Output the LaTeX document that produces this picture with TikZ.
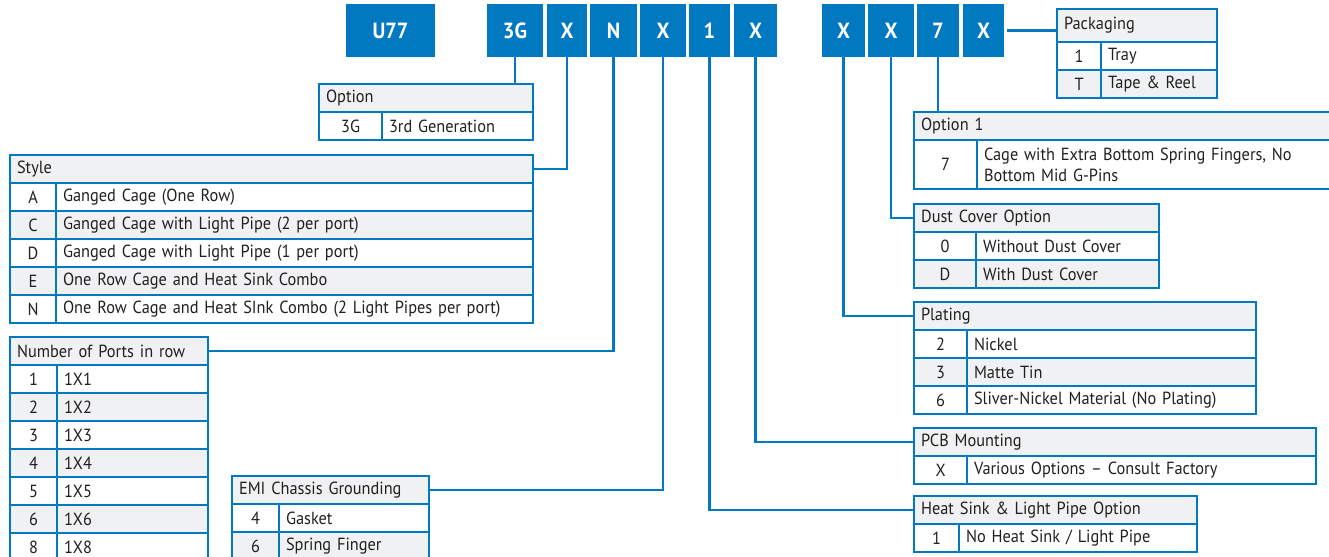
\documentclass[tikz,border=0pt]{standalone}
\usepackage{fontspec}
\setmainfont{PT Sans}[FakeStretch=0.93]
\usetikzlibrary{positioning}
\usetikzlibrary{calc}
\definecolor{cblue}{RGB}{0,121,193}
\definecolor{cgray}{RGB}{240,241,242}
\definecolor{ctext}{RGB}{35,31,32}
\newcommand{\unitpx}{0.02cm}
\newcommand{\tablefont}{\fontsize{10}{12}\selectfont}
\newcommand{\codefont}{\fontsize{12.5}{14}\selectfont\bfseries}
\tikzset{cell/.style={draw=cblue,text=ctext,line width=1.2pt,anchor=north west,inner sep=0pt,minimum height=28*\unitpx,font=\tablefont}}
\tikzset{hdr/.style={cell,fill=cgray,align=left,inner xsep=7*\unitpx}}
\tikzset{keyc/.style={cell,align=center}}
\tikzset{descc/.style={cell,align=left,inner xsep=7*\unitpx}}
\tikzset{row0/.style={fill=cgray},row1/.style={fill=white}}
\tikzset{codebox/.style={fill=cblue,text=white,font=\codefont,inner sep=0pt,outer sep=0pt,minimum height=53*\unitpx}}
\tikzset{link/.style={draw=cblue,line width=1.2pt}}

\begin{document}
\begin{tikzpicture}[x=\unitpx,y=-\unitpx]
\useasboundingbox (0,0) rectangle (1329,556);

% part number boxes
\node[codebox,anchor=north west,minimum width=89*\unitpx] (u77) at (346,4) {U77};
\node[codebox,minimum width=56*\unitpx,right=52*\unitpx of u77] (gen) {3G};
\node[codebox,minimum width=40*\unitpx,right=4*\unitpx of gen] (style) {X};
\node[codebox,minimum width=47*\unitpx,right=3*\unitpx of style] (ports) {N};
\node[codebox,minimum width=46*\unitpx,right=3*\unitpx of ports] (emi) {X};
\node[codebox,minimum width=41*\unitpx,right=3*\unitpx of emi] (heat) {1};
\node[codebox,minimum width=43*\unitpx,right=4*\unitpx of heat] (pcb) {X};
\node[codebox,minimum width=43*\unitpx,right=45*\unitpx of pcb] (plate) {X};
\node[codebox,minimum width=46*\unitpx,right=3*\unitpx of plate] (dust) {X};
\node[codebox,minimum width=42*\unitpx,right=3*\unitpx of dust] (opt) {7};
\node[codebox,minimum width=41*\unitpx,right=4*\unitpx of opt] (pack) {X};

% Option
\node[hdr,text width=200*\unitpx] (genH) at (318,83) {Option};
\node[keyc,minimum width=63*\unitpx] (genK1) at (318,111) {3G};
\node[descc,text width=137*\unitpx] (genD1) at (381,111) {3rd Generation};

% Style
\node[hdr,text width=509*\unitpx] (styleH) at (9,154) {Style};
\foreach \ky/\tx [count=\i,evaluate=\i as \rp using {int(mod(\i,2))}] in
  {A/Ganged Cage (One Row),C/Ganged Cage with Light Pipe (2 per port),
   D/Ganged Cage with Light Pipe (1 per port),E/One Row Cage and Heat Sink Combo,
   N/One Row Cage and Heat SInk Combo (2 Light Pipes per port)}{
  \node[keyc,row\rp,minimum width=46*\unitpx] (styleK\i) at (9,{154+28*\i}) {\ky};
  \node[descc,row\rp,text width=463*\unitpx] (styleD\i) at (55,{154+28*\i}) {\tx};
}

% Number of ports
\node[hdr,text width=184*\unitpx] (portsH) at (9,336) {Number of Ports in row};
\foreach \ky/\tx [count=\i,evaluate=\i as \rp using {int(mod(\i,2))}] in
  {1/1X1,2/1X2,3/1X3,4/1X4,5/1X5,6/1X6,8/1X8}{
  \node[keyc,row\rp,minimum width=47*\unitpx] (portsK\i) at (9,{336+28*\i}) {\ky};
  \node[descc,row\rp,text width=137*\unitpx] (portsD\i) at (56,{336+28*\i}) {\tx};
}

% EMI
\node[hdr,text width=183*\unitpx] (emiH) at (231,475) {EMI Chassis Grounding};
\foreach \ky/\tx [count=\i,evaluate=\i as \rp using {int(mod(\i,2))}] in
  {4/Gasket,6/Spring Finger}{
  \node[keyc,row\rp,minimum width=47*\unitpx] (emiK\i) at (231,{475+28*\i}) {\ky};
  \node[descc,row\rp,text width=136*\unitpx] (emiD\i) at (278,{475+28*\i}) {\tx};
}

% Packaging
\node[hdr,minimum height=33*\unitpx,text width=146*\unitpx] (packH) at (1056,8) {Packaging};
\foreach \ky/\tx [count=\i,evaluate=\i as \rp using {int(mod(\i,2))}] in
  {1/Tray,T/Tape \& Reel}{
  \node[keyc,row\rp,minimum width=44*\unitpx] (packK\i) at (1056,{13+28*\i}) {\ky};
  \node[descc,row\rp,text width=102*\unitpx] (packD\i) at (1100,{13+28*\i}) {\tx};
}

% Option 1
\node[hdr,text width=403*\unitpx] (optH) at (913,111) {Option 1};
\node[keyc,minimum width=63*\unitpx,minimum height=49*\unitpx] (optK1) at (913,139) {7};
\node[descc,minimum height=49*\unitpx,text width=340*\unitpx] (optD1) at (976,139)
  {Cage with Extra Bottom Spring Fingers, No\\Bottom Mid G-Pins};

% Dust cover
\node[hdr,text width=231*\unitpx] (dustH) at (913,203) {Dust Cover Option};
\foreach \ky/\tx [count=\i,evaluate=\i as \rp using {int(mod(\i,2))}] in
  {0/Without Dust Cover,D/With Dust Cover}{
  \node[keyc,row\rp,minimum width=62*\unitpx] (dustK\i) at (913,{203+28*\i}) {\ky};
  \node[descc,row\rp,text width=169*\unitpx] (dustD\i) at (975,{203+28*\i}) {\tx};
}

% Plating
\node[hdr,text width=328*\unitpx] (plateH) at (913,301) {Plating};
\foreach \ky/\tx [count=\i,evaluate=\i as \rp using {int(mod(\i,2))}] in
  {2/Nickel,3/Matte Tin,6/Sliver-Nickel Material (No Plating)}{
  \node[keyc,row\rp,minimum width=53*\unitpx] (plateK\i) at (913,{301+28*\i}) {\ky};
  \node[descc,row\rp,text width=275*\unitpx] (plateD\i) at (966,{301+28*\i}) {\tx};
}

% PCB mounting
\node[hdr,text width=388*\unitpx] (pcbH) at (913,427) {PCB Mounting};
\node[keyc,minimum width=53*\unitpx] (pcbK1) at (913,455) {X};
\node[descc,text width=335*\unitpx] (pcbD1) at (966,455) {Various Options -- Consult Factory};

% Heat sink
\node[hdr,text width=269*\unitpx] (heatH) at (913,495) {Heat Sink \& Light Pipe Option};
\node[keyc,minimum width=45*\unitpx] (heatK1) at (913,523) {1};
\node[descc,text width=224*\unitpx] (heatD1) at (958,523) {No Heat Sink / Light Pipe};

% connectors
\draw[link] (gen.south) -- (gen.south |- genH.north);
\draw[link] (style.south) |- (styleH.east);
\draw[link] (ports.south) |- (portsH.east);
\draw[link] (emi.south) |- (emiH.east);
\draw[link] (heat.south) |- (heatH.west);
\draw[link] (pcb.south) |- (pcbH.west);
\draw[link] (plate.south) |- (plateH.west);
\draw[link] (dust.south) |- (dustH.west);
\draw[link] (opt.south) -- (opt.south |- optH.north);
\draw[link] ([xshift=3*\unitpx]pack.east) -- (pack.east -| packH.west);
\end{tikzpicture}
\end{document}
